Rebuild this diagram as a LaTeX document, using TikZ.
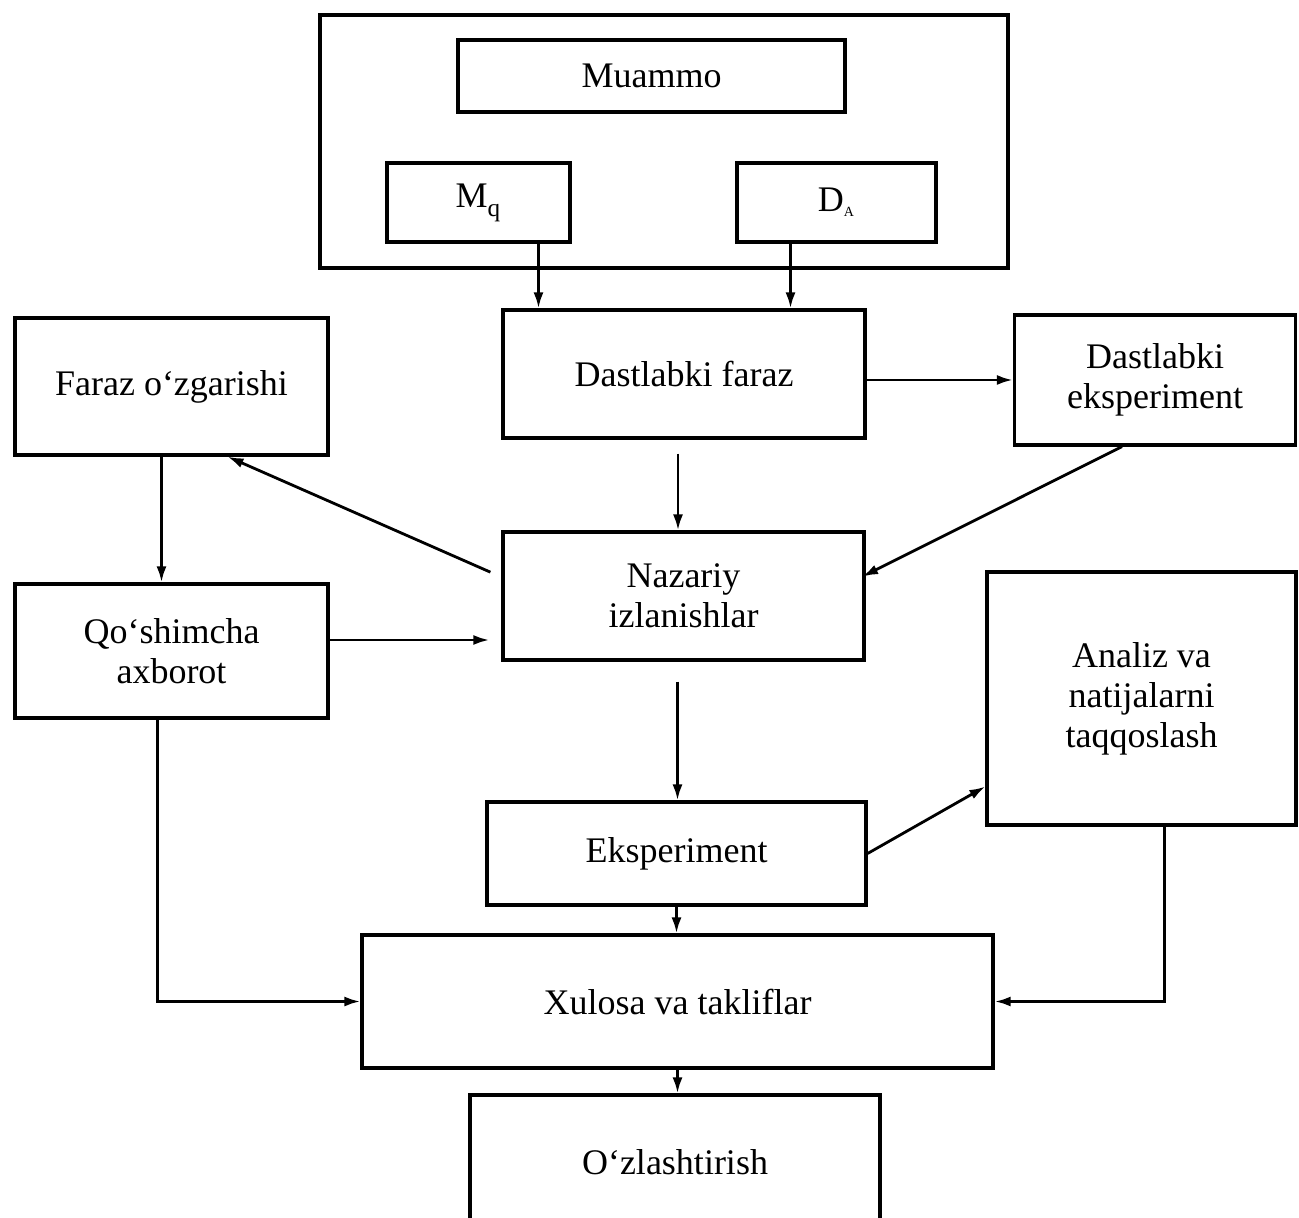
\documentclass[tikz,border=0pt]{standalone}
\usepackage{fontspec}
\setmainfont{Liberation Serif}
\usetikzlibrary{arrows.meta}

\tikzset{every picture/.style={line width=1.5pt}}

\begin{document}
\begin{tikzpicture}[x=0.5pt,y=0.5pt,yscale=-1,
    blk/.style={draw,line width=1.6pt,inner sep=0pt,align=center,font=\fontsize{18}{20}\selectfont},
    arr/.style={line width=1.4pt,-{Latex[length=8pt,width=5pt]}}]
            \useasboundingbox (0,0) rectangle (1299,1218);
            \clip (0,0) rectangle (1299,1218);
            \node[blk,minimum width=344pt,minimum height=126.5pt] (outer) at (664,141.5) {};
            \node[blk,minimum width=193.5pt,minimum height=36pt] (muammo) at (651.5,76) {Muammo};
            \node[blk,minimum width=91.5pt,minimum height=39.5pt] (mq) at (478.5,202.5) {M\textsubscript{\raisebox{-2pt}{q}}};
            \node[blk,minimum width=99.5pt,minimum height=39.5pt] (da) at (836.5,202.5) {D\textsubscript{\scriptsize A}};
            \node[blk,minimum width=181pt,minimum height=64pt] (df) at (684,374) {Dastlabki faraz};
            \node[blk,minimum width=140.5pt,minimum height=65pt] (de) at (1155,380) {Dastlabki\\eksperiment};
            \node[blk,minimum width=156.5pt,minimum height=68.5pt] (fo) at (171.5,386.5) {Faraz o‘zgarishi};
            \node[blk,minimum width=180.5pt,minimum height=64pt] (ni) at (683.5,596) {Nazariy\\izlanishlar};
            \node[blk,minimum width=156.5pt,minimum height=67pt] (qa) at (171.5,651) {Qo‘shimcha\\axborot};
            \node[blk,minimum width=154.5pt,minimum height=126.5pt] (an) at (1141.5,698.5) {Analiz va\\natijalarni\\taqqoslash};
            \node[blk,minimum width=189.5pt,minimum height=51.5pt] (ek) at (676.5,853.5) {Eksperiment};
            \node[blk,minimum width=315.5pt,minimum height=66.5pt] (xt) at (677.5,1001.5) {Xulosa va takliflar};
            \node[blk,minimum width=205pt,minimum height=67.5pt] (oz) at (675,1162.5) {O‘zlashtirish};
            \draw[arr] ([xshift=30pt]mq.south) -- ([xshift=30pt]mq.south |- df.north);
            \draw[arr] ([xshift=-23pt]da.south) -- ([xshift=-23pt]da.south |- df.north);
            \draw[arr] (de.west -| df.east) -- (de.west);
            \draw[arr,shorten <=7pt] ([xshift=-3pt]df.south) -- ([xshift=-3pt]df.south |- ni.north);
            \draw[arr,shorten >=-2pt] ([xshift=-16.5pt]de.south) -- ([yshift=-10.5pt]ni.east);
            \draw[arr,shorten <=6pt] ([yshift=-9.5pt]ni.west) -- ([xshift=28pt]fo.south);
            \draw[arr] ([xshift=-5pt]fo.south) -- ([xshift=-5pt]fo.south |- qa.north);
            \draw[arr,shorten >=6pt] ([yshift=-5.5pt]qa.east) -- ([yshift=-5.5pt]qa.east -| ni.west);
            \draw[arr,shorten <=10pt] ([xshift=-3pt]ni.south) -- ([xshift=-3pt]ni.south |- ek.north);
            \draw[arr] (ek.east) -- ([yshift=44pt]an.west);
            \draw[arr] (ek.south) -- (ek.south |- xt.north);
            \draw[arr] ([xshift=-7pt]qa.south) |- (xt.west);
            \draw[arr] ([xshift=11.5pt]an.south) |- (xt.east);
            \draw[arr] (xt.south) -- (xt.south |- oz.north);
        \end{tikzpicture}
\end{document}
